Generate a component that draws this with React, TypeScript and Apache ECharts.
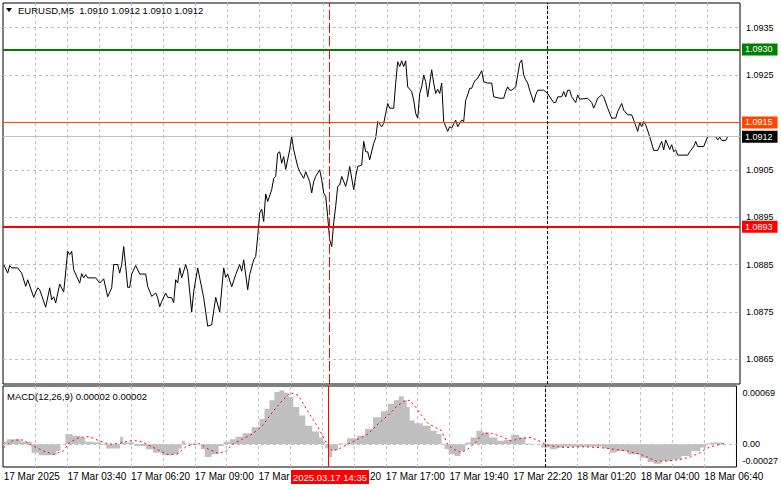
import React, { useEffect, useRef } from "react";
import * as echarts from "echarts";

const FONT = '"Liberation Sans", Arial, sans-serif';

// ---- data (bar index from 17 Mar 01:00, M5 bars) ----
const pricePoints: [number, number][] = [
  [0, 1.0885], [2, 1.08832], [3, 1.08848], [4, 1.08843], [7, 1.08843], [9, 1.08832], [11, 1.08804], [12, 1.08818],
  [15, 1.08781], [17, 1.08801], [18, 1.08797], [21, 1.0876], [23, 1.08801], [24, 1.08776], [25, 1.08782], [26, 1.08769],
  [28, 1.08809], [30, 1.08792], [32, 1.08878], [33, 1.08871], [34, 1.08878], [35, 1.08839], [38, 1.08811], [39, 1.08831],
  [40, 1.08822], [41, 1.08829], [42, 1.08822], [46, 1.08822], [48, 1.08811], [50, 1.0882], [52, 1.08782], [54, 1.08801],
  [55, 1.0885], [57, 1.0885], [58, 1.08832], [59, 1.0885], [60, 1.08888], [61, 1.08846], [62, 1.08802], [63, 1.08802],
  [64, 1.0883], [66, 1.08848], [68, 1.0883], [71, 1.0883], [72, 1.08804], [74, 1.08783], [76, 1.0879], [77, 1.0878],
  [78, 1.08761], [79, 1.08772], [81, 1.0879], [82, 1.08781], [84, 1.0878], [85, 1.0877], [86, 1.08818], [87, 1.08811],
  [88, 1.08843], [89, 1.08822], [91, 1.0885], [92, 1.08836], [94, 1.0875], [95, 1.08793], [97, 1.08843], [98, 1.08822],
  [100, 1.0878], [102, 1.0872], [104, 1.08723], [106, 1.08781], [108, 1.0875], [110, 1.08843], [111, 1.08823], [112, 1.0883],
  [114, 1.08803], [116, 1.08829], [118, 1.0885], [119, 1.08836], [120, 1.0886], [122, 1.08797], [123, 1.08829], [125, 1.0886],
  [126, 1.08867], [127, 1.08909], [128, 1.08959], [129, 1.08967], [130, 1.08941], [131, 1.08999], [132, 1.08983], [134, 1.09008],
  [135, 1.09032], [136, 1.09036], [137, 1.09085], [138, 1.09088], [139, 1.09064], [140, 1.09078], [141, 1.09051], [143, 1.09092],
  [144, 1.09121], [145, 1.09092], [147, 1.09057], [148, 1.09046], [150, 1.09032], [151, 1.09046], [153, 1.09025], [154, 1.09001],
  [155, 1.09025], [156, 1.09036], [158, 1.0905], [159, 1.09029], [160, 1.09001], [161, 1.08994], [162, 1.08951], [163, 1.08902],
  [164, 1.08888], [165, 1.08938], [166, 1.08973], [167, 1.09015], [168, 1.09018], [169, 1.09036], [171, 1.09015], [172, 1.09032],
  [173, 1.09057], [175, 1.09008], [176, 1.09036], [177, 1.09057], [179, 1.0906], [180, 1.0911], [181, 1.09088], [182, 1.09088],
  [183, 1.09071], [185, 1.09106], [186, 1.09117], [187, 1.09152], [189, 1.09141], [190, 1.09148], [192, 1.0919], [193, 1.0918],
  [195, 1.0918], [196, 1.09233], [197, 1.09278], [198, 1.09268], [199, 1.0928], [200, 1.09268], [201, 1.0928], [202, 1.09225],
  [204, 1.09215], [205, 1.09197], [206, 1.09169], [207, 1.09159], [208, 1.09211], [209, 1.09225], [210, 1.0925], [211, 1.09236],
  [212, 1.09204], [214, 1.09261], [215, 1.09233], [216, 1.09211], [217, 1.0922], [218, 1.09211], [219, 1.09233], [220, 1.09152],
  [222, 1.09131], [223, 1.09141], [224, 1.09138], [226, 1.09155], [227, 1.09141], [229, 1.09155], [230, 1.09152], [231, 1.09197],
  [232, 1.09208], [233, 1.09222], [234, 1.09222], [235, 1.09233], [236, 1.0924], [237, 1.09243], [239, 1.09259], [240, 1.09236],
  [242, 1.09233], [244, 1.09233], [245, 1.09204], [248, 1.09201], [250, 1.09201], [251, 1.09215], [252, 1.09225], [253, 1.09218],
  [254, 1.09218], [256, 1.09225], [258, 1.09275], [259, 1.09282], [260, 1.0925], [261, 1.0924], [262, 1.09233], [263, 1.09218],
  [265, 1.09192], [266, 1.09208], [267, 1.09218], [270, 1.09218], [272, 1.09211], [273, 1.09204], [275, 1.09192], [276, 1.09192],
  [277, 1.09204], [279, 1.09204], [280, 1.09215], [281, 1.09204], [282, 1.09218], [283, 1.09218], [284, 1.09204], [286, 1.09192],
  [287, 1.09208], [288, 1.09199], [292, 1.09201], [294, 1.09192], [295, 1.0918], [296, 1.0919], [297, 1.09201], [299, 1.09208],
  [300, 1.09204], [302, 1.0918], [304, 1.09159], [306, 1.09159], [307, 1.09173], [309, 1.0919], [310, 1.09176], [312, 1.09166],
  [314, 1.09166], [315, 1.09155], [317, 1.09131], [318, 1.0915], [319, 1.09141], [320, 1.09152], [321, 1.09145], [323, 1.0912],
  [325, 1.09091], [327, 1.09091], [329, 1.0911], [330, 1.09092], [331, 1.09113], [333, 1.09093], [334, 1.09103], [335, 1.09088],
  [336, 1.09092], [337, 1.09081], [342, 1.09081], [343, 1.09088], [345, 1.09099], [346, 1.0911], [347, 1.09099], [350, 1.09099],
  [352, 1.0912], [356, 1.0912], [357, 1.09113], [358, 1.09119], [359, 1.09112], [361, 1.09112], [362, 1.0912],
];

const macdHistogram: [number, number][] = [
  [0, 0.00003], [3, 0.00006], [8, 0.00006], [9, 0.00003], [13, 0.00003], [15, -0.0001], [20, -0.00013], [26, -0.00013],
  [27, -0.00008], [30, 0], [32, 0.00012], [37, 0.0001], [40, 0.00008], [42, 0.00003], [48, 0.00002], [50, -0.00001],
  [53, -0.00005], [58, -0.00005], [59, 0.00009], [61, 0.00002], [70, -0.00002], [73, -0.00006], [77, -0.0001], [82, -0.00013],
  [87, -0.00012], [89, -0.00005], [90, 0.00004], [92, 0.00001], [98, 0], [100, -0.00006], [102, -0.00015], [107, -0.00012],
  [109, -0.00002], [112, 0.00003], [115, 0.00006], [118, 0.00009], [122, 0.00013], [127, 0.0002], [130, 0.0003], [132, 0.00042],
  [135, 0.00052], [137, 0.00062], [140, 0.00064], [142, 0.00061], [144, 0.00056], [147, 0.00044], [150, 0.00034], [153, 0.00022],
  [157, 0.00015], [160, 0.00008], [161, 0.00003], [162, -0.00005], [164, -0.00015], [166, -0.00007], [170, 0.00001], [175, 0.00007],
  [180, 0.0001], [183, 0.00018], [188, 0.00032], [191, 0.00039], [195, 0.00048], [197, 0.00052], [200, 0.00057], [202, 0.00052],
  [203, 0.00044], [205, 0.00028], [208, 0.00025], [213, 0.00022], [216, 0.00016], [219, 0.00012], [221, 0], [222, -0.00006],
  [225, -0.00012], [228, -0.00014], [231, -0.00008], [233, 0.00002], [236, 0.00008], [239, 0.00016], [242, 0.00014], [246, 0.00008],
  [250, 0.00004], [253, 0.00005], [257, 0.00011], [261, 0.00008], [263, 0.00001], [267, 0], [273, -0.00004], [276, -0.00006],
  [280, -0.00004], [283, -0.00003], [300, -0.00003], [303, -0.00005], [306, -0.0001], [310, -0.00008], [317, -0.00012], [322, -0.00016],
  [325, -0.00021], [328, -0.00023], [333, -0.0002], [338, -0.00018], [343, -0.00014], [348, -0.00008], [352, -0.00004], [354, 0.00001],
  [356, 0.00002], [361, 0.00002],
];

const macdSignal: [number, number][] = [
  [0, -0.00004], [5, 0.00005], [10, 0.00005], [13, 0], [20, -0.00008], [25, -0.00012], [30, -0.00008], [33, 0.00002],
  [38, 0.00008], [43, 0.00009], [48, 0.00004], [53, 0], [58, 0.00001], [63, 0.00004], [68, 0.00004], [71, 0.00001],
  [77, -0.00006], [82, -0.00012], [87, -0.00012], [92, -0.00002], [98, 0.00001], [103, -0.00006], [108, -0.00011], [112, -0.00008],
  [115, 0], [120, 0.00006], [125, 0.00012], [130, 0.00022], [135, 0.00038], [140, 0.00052], [144, 0.00061], [148, 0.00058],
  [153, 0.00038], [158, 0.0002], [161, 0.00006], [165, -0.00008], [168, -0.00006], [173, 0], [178, 0.00006], [183, 0.00012],
  [188, 0.00024], [193, 0.00034], [198, 0.00046], [202, 0.00052], [204, 0.00052], [207, 0.00044], [210, 0.00034], [213, 0.00025],
  [216, 0.00021], [220, 0.00016], [223, 0], [226, -0.00006], [230, -0.0001], [233, -0.00006], [237, 0.00002], [241, 0.00013],
  [245, 0.00013], [250, 0.00009], [255, 0.00004], [260, 0.00007], [265, 0.00008], [268, 0.00005], [273, -0.00001], [278, -0.00003],
  [283, -0.00004], [290, -0.00003], [300, -0.00004], [307, -0.00006], [313, -0.00008], [320, -0.00012], [325, -0.00017], [328, -0.0002],
  [333, -0.0002], [340, -0.00018], [345, -0.00015], [350, -0.0001], [353, -0.00005], [357, -0.00002], [362, 0.00001],
];

const priceGridTicks = [1.0865, 1.0875, 1.0885, 1.0895, 1.0905, 1.0915, 1.0925, 1.0935];
const priceLabelTicks = [1.0865, 1.0875, 1.0885, 1.0895, 1.0905, 1.0925, 1.0935];
const timeGridBars = [16, 32, 48, 64, 80, 96, 112, 128, 144, 160, 176, 192, 208, 224, 240, 256, 272, 288, 304, 320, 336, 352];
const timeLabelBars = [0, 32, 64, 96, 128, 160, 192, 224, 256, 288, 320, 352];
const timeLabels = [
  "17 Mar 2025", "17 Mar 03:40", "17 Mar 06:20", "17 Mar 09:00", "17 Mar 11:40", "17 Mar 14:20",
  "17 Mar 17:00", "17 Mar 19:40", "17 Mar 22:20", "18 Mar 01:20", "18 Mar 04:00", "18 Mar 06:40",
];
const macdLabelTicks = [-0.00027, 0, 0.00069];
const ohlc = [1.091, 1.0912, 1.091, 1.0912];
const macdCurrent = [0.00002, 0.00002];

const currentPrice = 1.0912;
const orangeLevel = 1.0915;
const redLevel = 1.0893;
const greenLevel = 1.09304;
const crosshairBar = 163;
const crosshairLabel = "2025.03.17 14:35";
const separatorBar = 272;

const levelLabel = (v: number, bg: string) => ({
  show: true,
  position: "end",
  formatter: v.toFixed(4),
  color: "#ffffff",
  backgroundColor: bg,
  padding: [2, 5, 1, 3],
  distance: 2,
  fontSize: 9,
  fontFamily: FONT,
});

export default function App() {
  const ref = useRef<HTMLDivElement>(null);
  useEffect(() => {
    if (!ref.current) return;
    const chart = echarts.init(ref.current, undefined, { renderer: "svg" });
    const gridLine = { show: true, lineStyle: { color: "#c0c0c0", type: [3, 3], width: 1 } };
    const xCommon = {
      type: "value",
      min: -0.35,
      max: 368.15,
      axisLine: { show: false },
      axisTick: { show: false, customValues: timeGridBars },
      splitLine: gridLine,
    };
    const option: any = {
      animation: false,
      backgroundColor: "#ffffff",
      textStyle: { fontFamily: FONT },
      grid: [
        { left: 3, top: 3, width: 737, height: 381, show: true, borderColor: "#000", borderWidth: 1 },
        { left: 3, top: 386, width: 737, height: 81, show: true, borderColor: "#000", borderWidth: 1 },
      ],
      xAxis: [
        { ...xCommon, gridIndex: 0, axisLabel: { show: false } },
        {
          ...xCommon,
          gridIndex: 1,
          axisLabel: {
            show: true,
            customValues: timeLabelBars,
            formatter: (v: number) => timeLabels[timeLabelBars.indexOf(Math.round(v))] || "",
            align: "left",
            color: "#000",
            fontSize: 10,
            fontFamily: FONT,
            margin: 4,
            hideOverlap: false,
          },
        },
      ],
      yAxis: [
        {
          type: "value",
          gridIndex: 0,
          position: "right",
          min: 1.08598,
          max: 1.09402,
          axisLine: { show: false },
          axisTick: { show: false, customValues: priceGridTicks },
          splitLine: gridLine,
          axisLabel: {
            customValues: priceLabelTicks,
            formatter: (v: number) => v.toFixed(4),
            color: "#000",
            fontSize: 9,
            fontFamily: FONT,
            margin: 6,
          },
        },
        {
          type: "value",
          gridIndex: 1,
          position: "right",
          min: -0.00027,
          max: 0.00069,
          axisLine: { show: false },
          axisTick: { show: false, customValues: [0] },
          splitLine: gridLine,
          axisLabel: {
            customValues: macdLabelTicks,
            showMinLabel: true,
            showMaxLabel: true,
            hideOverlap: false,
            formatter: (v: number) =>
              v > 0.0001 ? "{t|" + v.toFixed(5) + "}" : v < -0.0001 ? "{b|" + v.toFixed(5) + "}" : "0.00",
            color: "#000",
            fontSize: 9,
            fontFamily: FONT,
            margin: 6,
            rich: {
              t: { padding: [14, 0, 0, 0], fontSize: 9, color: "#000", fontFamily: FONT },
              b: { padding: [0, 0, 12, 0], fontSize: 9, color: "#000", fontFamily: FONT },
            },
          },
        },
      ],
      series: [
        {
          type: "line",
          xAxisIndex: 0,
          yAxisIndex: 0,
          data: pricePoints,
          symbol: "none",
          lineStyle: { color: "#000", width: 1 },
          z: 4,
          markLine: {
            silent: true,
            symbol: ["none", "none"],
            precision: 6,
            animation: false,
            data: [
              { yAxis: currentPrice, lineStyle: { color: "#c0c0c0", width: 1, type: "solid" }, label: levelLabel(currentPrice, "#000000") },
              { yAxis: orangeLevel, lineStyle: { color: "#ff4500", width: 1, type: "solid" }, label: levelLabel(orangeLevel, "#ff4500") },
              { yAxis: redLevel, lineStyle: { color: "#ff0000", width: 2, type: "solid" }, label: levelLabel(redLevel, "#ff0000") },
              { yAxis: greenLevel, lineStyle: { color: "#008000", width: 2, type: "solid" }, label: levelLabel(greenLevel, "#008000") },
              { xAxis: crosshairBar, lineStyle: { color: "#ff0000", width: 1, type: [10, 3] }, label: { show: false } },
              { xAxis: separatorBar, lineStyle: { color: "#000", width: 1, type: [3, 2] }, label: { show: false } },
            ],
          },
        },
        {
          type: "line",
          xAxisIndex: 1,
          yAxisIndex: 1,
          data: macdHistogram,
          step: "middle",
          symbol: "none",
          lineStyle: { width: 0, color: "#c0c0c0" },
          areaStyle: { color: "#c0c0c0", opacity: 1 },
          z: 2,
          markLine: {
            silent: true,
            symbol: ["none", "none"],
            precision: 6,
            animation: false,
            data: [
              { xAxis: crosshairBar, lineStyle: { color: "#ff0000", width: 1, type: "solid" }, label: { show: false } },
              { xAxis: separatorBar, lineStyle: { color: "#000", width: 1, type: [3, 2] }, label: { show: false } },
            ],
          },
        },
        {
          type: "line",
          xAxisIndex: 1,
          yAxisIndex: 1,
          data: macdSignal,
          symbol: "none",
          lineStyle: { color: "#ff0000", width: 1, type: [2, 3] },
          z: 3,
        },
      ],
      graphic: [
        { type: "polygon", shape: { points: [[6, 8], [12, 8], [9, 12]] }, style: { fill: "#000" }, z: 50 },
        {
          type: "text",
          x: 18,
          y: 10.5,
          z: 50,
          style: {
            text: "EURUSD,M5  " + ohlc.map((v) => v.toFixed(4)).join(" "),
            fill: "#000",
            fontSize: 9.5,
            fontFamily: FONT,
            verticalAlign: "middle",
            align: "left",
          },
        },
        {
          type: "text",
          x: 7,
          y: 396,
          z: 50,
          style: {
            text: "MACD(12,26,9) " + macdCurrent.map((v) => v.toFixed(5)).join(" "),
            fill: "#000",
            fontSize: 9.5,
            fontFamily: FONT,
            verticalAlign: "middle",
            align: "left",
          },
        },
        { type: "rect", shape: { x: 291, y: 470, width: 78, height: 14 }, style: { fill: "#ff0000" }, z: 100 },
        {
          type: "text",
          x: 330,
          y: 477,
          z: 101,
          style: {
            text: crosshairLabel,
            fill: "#ffffff",
            fontSize: 9.5,
            fontFamily: FONT,
            verticalAlign: "middle",
            align: "center",
          },
        },
      ],
    };
    chart.setOption(option);
    return () => chart.dispose();
  }, []);
  return (
    <div
      ref={ref}
      style={{ position: "fixed", left: 0, top: 0, width: 781, height: 489, background: "#fff" }}
    />
  );
}
